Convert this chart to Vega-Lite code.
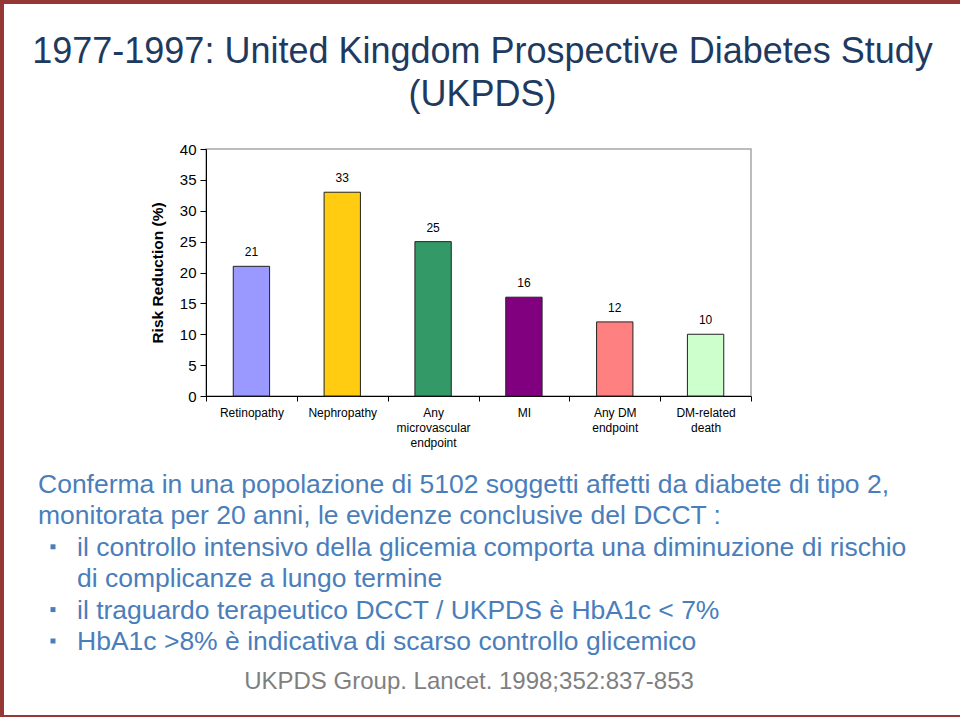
{
  "$schema": "https://vega.github.io/schema/vega-lite/v6.json",
  "padding": 0,
  "background": "white",
  "spacing": 0,
  "config": {
    "font": "Liberation Sans",
    "view": {"stroke": null},
    "title": {"fontWeight": "normal"}
  },
  "vconcat": [
    {
      "width": 960, "height": 4,
      "data": {"values": []},
      "mark": {"type": "text", "text": ""},
      "encoding": {},
      "view": {"fill": "#953735", "stroke": null}
    },
    {
      "spacing": 0,
      "hconcat": [
        {
          "width": 4, "height": 711,
          "data": {"values": []},
          "mark": {"type": "text", "text": ""},
          "encoding": {},
          "view": {"fill": "#953735", "stroke": null}
        },
        {
          "spacing": 0,
          "vconcat": [
            {
              "width": 1, "height": 29,
              "data": {"values": []},
              "mark": {"type": "text", "text": ""},
              "encoding": {}
            },
            {
              "spacing": 0,
              "bounds": "flush",
              "hconcat": [
                {
                  "width": 202, "height": 1,
                  "data": {"values": []},
                  "mark": {"type": "text", "text": ""},
                  "encoding": {}
                },
                {
                  "width": 545, "height": 247,
                  "title": {
                    "text": ["1977-1997: United Kingdom Prospective Diabetes Study", "(UKPDS)"],
                    "fontSize": 36, "lineHeight": 43, "color": "#1F3A60",
                    "anchor": "middle", "frame": "group", "offset": 28, "dx": 4
                  },
                  "view": {"stroke": "#A6A6A6", "strokeWidth": 1.5},
                  "data": {"values": [
                    {"endpoint": "Retinopathy", "reduction": 21},
                    {"endpoint": "Nephropathy", "reduction": 33},
                    {"endpoint": "Any|microvascular|endpoint", "reduction": 25},
                    {"endpoint": "MI", "reduction": 16},
                    {"endpoint": "Any DM|endpoint", "reduction": 12},
                    {"endpoint": "DM-related|death", "reduction": 10}
                  ]},
                  "encoding": {
                    "x": {
                      "field": "endpoint", "type": "nominal", "sort": null,
                      "scale": {"paddingInner": 0, "paddingOuter": 0},
                      "axis": {
                        "title": null, "labelAngle": 0, "labelExpr": "split(datum.label, '|')",
                        "tickBand": "extent", "tickSize": 5, "tickColor": "black", "domainColor": "black",
                        "labelFontSize": 12, "labelLineHeight": 15, "labelColor": "black",
                        "labelPadding": 6, "labelOverlap": false
                      }
                    },
                    "y": {
                      "field": "reduction", "type": "quantitative",
                      "scale": {"domain": [0, 40]},
                      "axis": {
                        "values": [0, 5, 10, 15, 20, 25, 30, 35, 40], "grid": false,
                        "title": "Risk Reduction (%)", "titleFontSize": 15.5, "titleFontWeight": "bold",
                        "titleColor": "black", "titlePadding": 14,
                        "labelFontSize": 15, "labelColor": "black", "labelPadding": 4,
                        "tickSize": 6, "tickColor": "black", "domainColor": "black"
                      }
                    }
                  },
                  "layer": [
                    {
                      "mark": {"type": "bar", "width": {"band": 0.4}, "stroke": "#222222", "strokeWidth": 1},
                      "encoding": {
                        "color": {
                          "field": "endpoint", "type": "nominal", "legend": null,
                          "scale": {
                            "domain": ["Retinopathy", "Nephropathy", "Any|microvascular|endpoint", "MI", "Any DM|endpoint", "DM-related|death"],
                            "range": ["#9999FF", "#FFCC11", "#339966", "#800080", "#FF8080", "#CCFFCC"]
                          }
                        }
                      }
                    },
                    {
                      "mark": {"type": "text", "baseline": "bottom", "dy": -7, "fontSize": 12, "color": "black"},
                      "encoding": {"text": {"field": "reduction", "type": "quantitative"}}
                    }
                  ]
                }
              ]
            },
            {
              "width": 1, "height": 23,
              "data": {"values": []},
              "mark": {"type": "text", "text": ""},
              "encoding": {}
            },
            {
              "width": 930, "height": 157,
              "title": {
                "text": "UKPDS Group. Lancet. 1998;352:837-853",
                "orient": "bottom", "anchor": "middle", "frame": "group",
                "fontSize": 24, "color": "#7F7F7F", "offset": 14
              },
              "data": {"values": [
                {"line": 1, "level": 0, "bullet": false, "text": "Conferma in una popolazione di 5102 soggetti affetti da diabete di tipo 2,"},
                {"line": 2, "level": 0, "bullet": false, "text": "monitorata per 20 anni, le evidenze conclusive del DCCT :"},
                {"line": 3, "level": 1, "bullet": true, "text": "\u00a0il controllo intensivo della glicemia comporta una diminuzione di rischio"},
                {"line": 4, "level": 1, "bullet": false, "text": "di complicanze a lungo termine"},
                {"line": 5, "level": 1, "bullet": true, "text": "il traguardo terapeutico DCCT / UKPDS è HbA1c < 7%"},
                {"line": 6, "level": 1, "bullet": true, "text": "HbA1c >8% è indicativa di scarso controllo glicemico"}
              ]},
              "encoding": {
                "x": {"field": "level", "type": "quantitative", "scale": {"domain": [0, 1], "range": [34, 73]}, "axis": null},
                "y": {"field": "line", "type": "ordinal", "scale": {"type": "point", "padding": 0}, "axis": null}
              },
              "layer": [
                {
                  "mark": {"type": "text", "align": "left", "baseline": "alphabetic", "fontSize": 26.5, "color": "#4A7EBB"},
                  "encoding": {"text": {"field": "text", "type": "nominal"}}
                },
                {
                  "transform": [{"filter": "datum.bullet"}],
                  "mark": {"type": "point", "shape": "square", "filled": true, "size": 25, "opacity": 1, "color": "#4A7EBB", "xOffset": -24, "yOffset": -9}
                }
              ]
            }
          ]
        }
      ]
    },
    {
      "width": 960, "height": 2,
      "data": {"values": []},
      "mark": {"type": "text", "text": ""},
      "encoding": {},
      "view": {"fill": "#953735", "stroke": null}
    }
  ]
}
